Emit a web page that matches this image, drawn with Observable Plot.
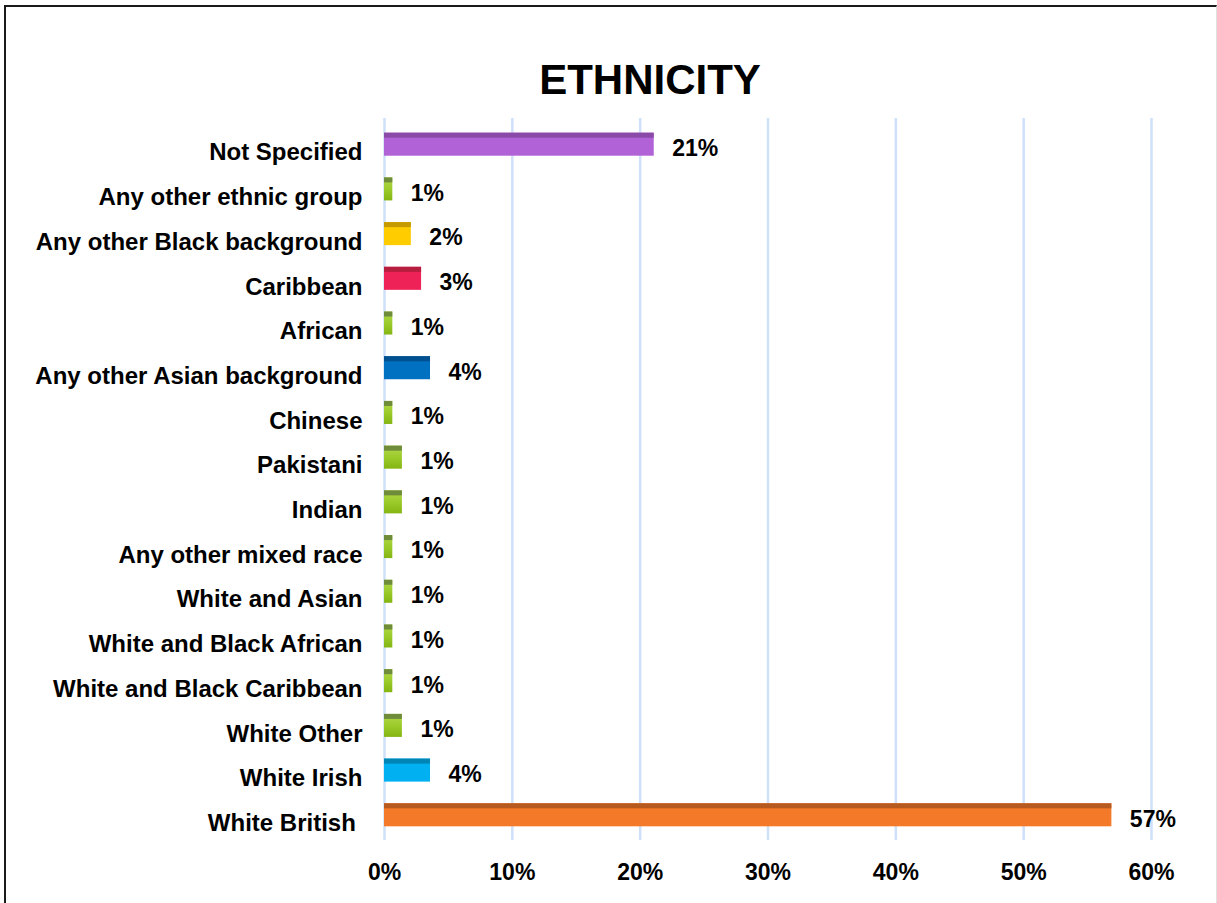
<!DOCTYPE html>
<html>
<head>
<meta charset="utf-8">
<script src="https://cdn.jsdelivr.net/npm/d3@7"></script>
<script src="https://cdn.jsdelivr.net/npm/@observablehq/plot@0.6"></script>
<style>
  html, body { margin: 0; padding: 0; background: #fff; overflow: hidden; }
  #wrap { position: relative; width: 1217px; height: 903px; font-family: "Liberation Sans", Arial, sans-serif; }
  #border { position: absolute; left: 4px; top: 5px; width: 1210px; height: 1000px;
            border-left: 2px solid #1a1a1a; border-top: 2px solid #1a1a1a; border-right: 1px solid #e0e0e0; }
  #title { position: absolute; left: 0; width: 1300px; top: 55px; text-align: center;
           font-size: 42px; font-weight: bold; color: #000; line-height: 50px; }
  #chart { position: absolute; left: 0; top: 0; }
  #chart svg text { font-weight: bold; fill: #000; white-space: pre; }
</style>
</head>
<body>
<div id="wrap">
  <div id="border"></div>
  <div id="chart"></div>
  <div id="title">ETHNICITY</div>
</div>
<script>
const categories = ["Not Specified","Any other ethnic group","Any other Black background","Caribbean","African","Any other Asian background","Chinese","Pakistani","Indian","Any other mixed race","White and Asian","White and Black African","White and Black Caribbean","White Other","White Irish","White British\u00a0"];
const values = [21.1, 0.65, 2.1, 2.9, 0.65, 3.6, 0.65, 1.4, 1.4, 0.65, 0.65, 0.65, 0.65, 1.4, 3.6, 56.9];
const labels = ["21%","1%","2%","3%","1%","4%","1%","1%","1%","1%","1%","1%","1%","1%","4%","57%"];
const fillColors = ["#B162D6","url(#greenGrad)","#FFCC00","#EE2257","url(#greenGrad)","#0070C0","url(#greenGrad)","url(#greenGrad)","url(#greenGrad)","url(#greenGrad)","url(#greenGrad)","url(#greenGrad)","url(#greenGrad)","url(#greenGrad)","#00B0F0","#F47A2A"];
const topColors = ["#8A4AA8","#6F8C3A","#C49A00","#B51E3F","#6F8C3A","#00508F","#6F8C3A","#6F8C3A","#6F8C3A","#6F8C3A","#6F8C3A","#6F8C3A","#6F8C3A","#6F8C3A","#0085B5","#B65A1F"];
const xTicks = [0, 10, 20, 30, 40, 50, 60];

const data = categories.map((c, i) => ({category: c, value: values[i], label: labels[i], fill: fillColors[i], top: topColors[i]}));

const svg = Plot.plot({
  width: 1217,
  height: 903,
  marginLeft: 384,
  marginRight: 66,
  marginTop: 111,
  marginBottom: 55,
  style: {fontFamily: "'Liberation Sans', Arial, sans-serif", fontSize: "23px", background: "transparent", overflow: "visible"},
  x: {domain: [0, 60], ticks: xTicks, tickFormat: d => d + "%", label: null},
  y: {domain: categories, padding: 0.485, round: false, label: null},
  color: {type: "identity"},
  marks: [
    Plot.gridX(xTicks, {stroke: "#CFE0FA", strokeOpacity: 1, strokeWidth: 2.5, insetTop: 7, insetBottom: 8}),
    Plot.barX(data, {y: "category", x: "value", fill: "fill"}),
    Plot.barX(data, {y: "category", x: "value", fill: "top", insetBottom: 18}),
    Plot.text(data, {y: "category", x: "value", text: "label", textAnchor: "start", dx: 18, dy: 4, fontSize: 23, fontWeight: "bold", fill: "#000"}),
    Plot.axisY({tickSize: 0, tickPadding: 22, dy: 8, fontSize: 24, fontWeight: "bold", label: null}),
    Plot.axisX(xTicks, {tickSize: 0, tickPadding: 15, tickFormat: d => d + "%", fontSize: 23, fontWeight: "bold", label: null})
  ]
});

const ns = "http://www.w3.org/2000/svg";
const defs = document.createElementNS(ns, "defs");
const grad = document.createElementNS(ns, "linearGradient");
grad.setAttribute("id", "greenGrad");
grad.setAttribute("x1", "0"); grad.setAttribute("y1", "0");
grad.setAttribute("x2", "0"); grad.setAttribute("y2", "1");
[["0", "#B2D84A"], ["0.5", "#9CCB2C"], ["1", "#84B512"]].forEach(([o, c]) => {
  const s = document.createElementNS(ns, "stop");
  s.setAttribute("offset", o); s.setAttribute("stop-color", c);
  grad.appendChild(s);
});
defs.appendChild(grad);
svg.insertBefore(defs, svg.firstChild);

document.getElementById("chart").appendChild(svg);
</script>
</body>
</html>
